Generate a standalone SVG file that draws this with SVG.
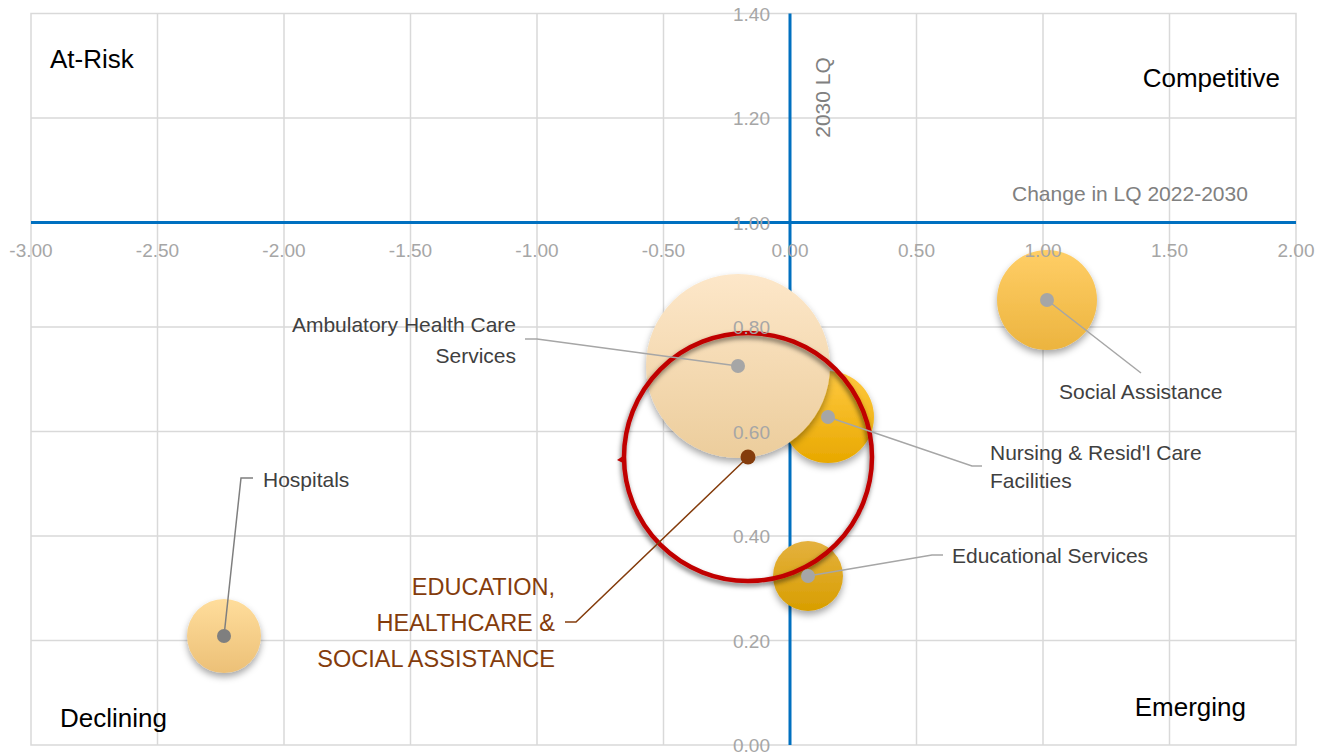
<svg xmlns="http://www.w3.org/2000/svg" width="1327" height="755" viewBox="0 0 1327 755">
<style>
  .grid{stroke:#D9D9D9;stroke-width:1.5;fill:none}
  .axis{stroke:#0070C0;stroke-width:3;fill:none}
  .tick{font-family:"Liberation Sans",Arial,sans-serif;font-size:19px;fill:#A6A6A6}
  .atitle{font-family:"Liberation Sans",Arial,sans-serif;font-size:21px;fill:#808080}
  .quad{font-family:"Liberation Sans",Arial,sans-serif;font-size:26px;fill:#000000}
  .dlabel{font-family:"Liberation Sans",Arial,sans-serif;font-size:21px;fill:#404040}
  .elabel{font-family:"Liberation Sans",Arial,sans-serif;font-size:23.5px;fill:#843C0C}
  .leader{stroke:#A6A6A6;stroke-width:1.5;fill:none}
  .dot{fill:#A6A6A6}
</style>
<defs>
  <filter id="shadow" x="-30%" y="-30%" width="160%" height="170%">
    <feDropShadow dx="0" dy="4" stdDeviation="3.5" flood-color="#000" flood-opacity="0.35"/>
  </filter>
  <filter id="ringShadow" x="-20%" y="-20%" width="140%" height="140%">
    <feDropShadow dx="-1" dy="3" stdDeviation="2.5" flood-color="#000" flood-opacity="0.55"/>
  </filter>
  <linearGradient id="gAmb" x1="0" y1="0" x2="0" y2="1">
    <stop offset="0" stop-color="#FDE7C9"/><stop offset="1" stop-color="#ECCD9C"/>
  </linearGradient>
  <linearGradient id="gNur" x1="0" y1="0" x2="0" y2="1">
    <stop offset="0" stop-color="#FFC940"/><stop offset="1" stop-color="#E8A800"/>
  </linearGradient>
  <linearGradient id="gEdu" x1="0" y1="0" x2="0" y2="1">
    <stop offset="0" stop-color="#E4B13F"/><stop offset="1" stop-color="#D89E00"/>
  </linearGradient>
  <linearGradient id="gSoc" x1="0" y1="0" x2="0" y2="1">
    <stop offset="0" stop-color="#FFCE66"/><stop offset="1" stop-color="#ECB43F"/>
  </linearGradient>
  <linearGradient id="gHos" x1="0" y1="0" x2="0" y2="1">
    <stop offset="0" stop-color="#FFDD9C"/><stop offset="1" stop-color="#ECC077"/>
  </linearGradient>
</defs>
<rect width="1327" height="755" fill="#FFFFFF"/>
<g id="grid">
  <rect class="grid" x="31" y="13.5" width="1265" height="731.5"/>
  <path class="grid" d="M157.5 13.5V745M284 13.5V745M410.5 13.5V745M537 13.5V745M663.5 13.5V745M916.5 13.5V745M1043 13.5V745M1169.5 13.5V745"/>
  <path class="grid" d="M31 118H1296M31 327H1296M31 431.5H1296M31 536H1296M31 640.5H1296"/>
</g>
<g id="axes">
  <line class="axis" x1="31" y1="222.5" x2="1296" y2="222.5"/>
  <line class="axis" x1="790" y1="13.5" x2="790" y2="745"/>
</g>
<g id="quadrant-labels">
  <text class="quad" x="50" y="68">At-Risk</text>
  <text class="quad" x="1280" y="87" text-anchor="end">Competitive</text>
  <text class="quad" x="60" y="727">Declining</text>
  <text class="quad" x="1246" y="716" text-anchor="end">Emerging</text>
</g>
<g id="node-hospitals">
  <circle cx="224" cy="636" r="37" fill="url(#gHos)" filter="url(#shadow)"/>
</g>
<g id="node-social-assistance">
  <circle cx="1047" cy="300" r="50" fill="url(#gSoc)" filter="url(#shadow)"/>
</g>
<g id="node-educational-services">
  <circle cx="808" cy="576" r="35" fill="url(#gEdu)" filter="url(#shadow)"/>
</g>
<g id="node-nursing">
  <circle cx="828" cy="417" r="46" fill="url(#gNur)" filter="url(#shadow)"/>
</g>
<g id="node-ambulatory">
  <circle cx="738" cy="366" r="92" fill="url(#gAmb)" filter="url(#shadow)"/>
</g>
<g id="node-education-total">
  <circle cx="748" cy="457" r="124" fill="none" stroke="#C00000" stroke-width="4.5" filter="url(#ringShadow)"/>
  <path d="M623 456 L617 460 L623 463 Z" fill="#C00000"/>
</g>
<g id="tick-labels">
  <g class="tick" text-anchor="middle">
    <text x="31" y="257">-3.00</text>
    <text x="157.5" y="257">-2.50</text>
    <text x="284" y="257">-2.00</text>
    <text x="410.5" y="257">-1.50</text>
    <text x="537" y="257">-1.00</text>
    <text x="663.5" y="257">-0.50</text>
    <text x="790" y="257">0.00</text>
    <text x="916.5" y="257">0.50</text>
    <text x="1043" y="257">1.00</text>
    <text x="1169.5" y="257">1.50</text>
    <text x="1296" y="257">2.00</text>
  </g>
  <g class="tick" text-anchor="end">
    <text x="770" y="21">1.40</text>
    <text x="770" y="125">1.20</text>
    <text x="770" y="229.5">1.00</text>
    <text x="770" y="334">0.80</text>
    <text x="770" y="438.5">0.60</text>
    <text x="770" y="543">0.40</text>
    <text x="770" y="647.5">0.20</text>
    <text x="770" y="752">0.00</text>
  </g>
  <text class="atitle" x="1012" y="201">Change in LQ 2022-2030</text>
  <text class="atitle" transform="translate(830,97.5) rotate(-90)" text-anchor="middle">2030 LQ</text>
</g>
<g id="connectors">
  <path class="leader" d="M525 339H537L738 366"/>
  <path class="leader" d="M1047 300L1141 373"/>
  <path class="leader" d="M828 417L972 466H982"/>
  <path class="leader" d="M808 576L932 555H943"/>
  <path d="M224 636L241 478H253" fill="none" stroke="#7F7F7F" stroke-width="1.5"/>
  <path d="M565 622H576L748 457" fill="none" stroke="#843C0C" stroke-width="1.5"/>
  <circle class="dot" cx="738" cy="366" r="7"/>
  <circle class="dot" cx="1047" cy="300" r="7"/>
  <circle class="dot" cx="828" cy="417" r="7"/>
  <circle class="dot" cx="808" cy="576" r="7"/>
  <circle cx="224" cy="636" r="7" fill="#7F7F7F"/>
  <circle cx="748" cy="457" r="7.5" fill="#843C0C"/>
</g>
<g id="data-labels">
  <text class="dlabel" x="516" y="332" text-anchor="end">Ambulatory Health Care</text>
  <text class="dlabel" x="516" y="363" text-anchor="end">Services</text>
  <text class="dlabel" x="1059" y="399">Social Assistance</text>
  <text class="dlabel" x="990" y="460">Nursing &amp; Resid'l Care</text>
  <text class="dlabel" x="990" y="488">Facilities</text>
  <text class="dlabel" x="952" y="563">Educational Services</text>
  <text class="dlabel" x="263" y="487">Hospitals</text>
  <text class="elabel" x="555" y="595" text-anchor="end">EDUCATION,</text>
  <text class="elabel" x="555" y="631" text-anchor="end">HEALTHCARE &amp;</text>
  <text class="elabel" x="555" y="667" text-anchor="end">SOCIAL ASSISTANCE</text>
</g>
</svg>
